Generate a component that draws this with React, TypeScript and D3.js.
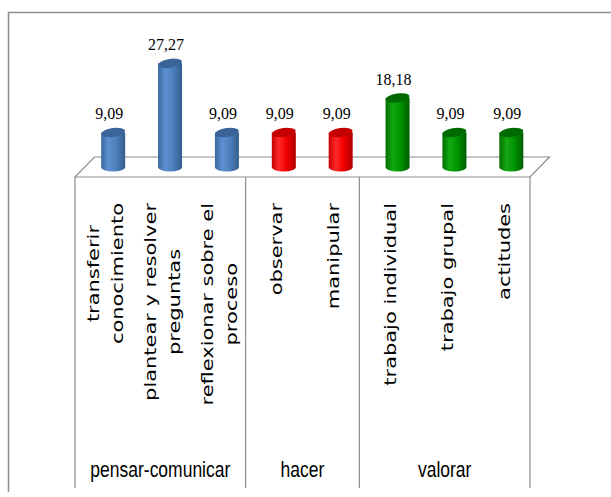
import React, { useLayoutEffect, useRef } from "react";
import * as d3 from "d3";

// Chart data
const categories = [
  "transferir conocimiento",
  "plantear y resolver preguntas",
  "reflexionar sobre el proceso",
  "observar",
  "manipular",
  "trabajo individual",
  "trabajo grupal",
  "actitudes",
];
const categoryLines = [
  ["transferir", "conocimiento"],
  ["plantear y resolver", "preguntas"],
  ["reflexionar sobre el", "proceso"],
  ["observar"],
  ["manipular"],
  ["trabajo individual"],
  ["trabajo grupal"],
  ["actitudes"],
];
const values = [9.09, 27.27, 9.09, 9.09, 9.09, 18.18, 9.09, 9.09];
const groupNames = ["pensar-comunicar", "hacer", "valorar"];
const groupSizes = [3, 2, 3];

// Per-group cylinder shading
const palettes = [
  { id: "gBlue", stops: ["#3a679c", "#5d91d2", "#4f81bd", "#345d8f"], top: "#3b6598" },
  { id: "gRed", stops: ["#c80000", "#ff2a2a", "#f20000", "#b00000"], top: "#c40000" },
  { id: "gGreen", stops: ["#006e00", "#14a814", "#009600", "#005e00"], top: "#006a00" },
];

const W = 611;
const H = 497;
const plotLeft = 75;
const plotRight = 530;
const floorFront = 177;
const depthX = 19.5;
const depthY = 20;
const tableBottom = 488;
const labelTop = 203;
const stretch = 1.31;
const lineGap = 24;
const gray = "#8d8d8d";

const fmt = (v: number) => d3.format(".2f")(v).replace(".", ",");

export default function App() {
  const labelsRef = useRef<SVGGElement>(null);

  const x = d3.scaleBand<string>().domain(categories).range([plotLeft, plotRight]);
  const bw = x.bandwidth();
  const base = floorFront - depthY / 2;
  const y = d3.scaleLinear().domain([0, 30]).range([base, base - 114]);

  const groupIndex: number[] = [];
  groupSizes.forEach((n, g) => {
    for (let i = 0; i < n; i++) groupIndex.push(g);
  });
  const bounds = [0, ...d3.cumsum(groupSizes)].map((c) => plotLeft + c * bw);

  const rx = 12;
  const ry = 4.5;

  useLayoutEffect(() => {
    if (!labelsRef.current) return;
    d3.select(labelsRef.current)
      .selectAll<SVGGElement, unknown>("g.cat")
      .each(function () {
        const texts = d3.select(this).selectAll<SVGTextElement, unknown>("text");
        const lens = texts.nodes().map((n) => n.getComputedTextLength());
        const maxLen = d3.max(lens) || 0;
        const yc = labelTop + (maxLen * stretch) / 2;
        texts.attr("transform", function () {
          const bx = +(this.getAttribute("data-x") || 0);
          return `translate(${bx},${yc}) scale(1,${stretch}) rotate(-90)`;
        });
      });
  }, []);

  return (
    <svg
      width={W}
      height={H}
      style={{ position: "absolute", left: 0, top: 0, background: "#fff" }}
    >
      <defs>
        {palettes.map((p) => (
          <linearGradient key={p.id} id={p.id} x1="0" x2="1" y1="0" y2="0">
            <stop offset="0" stopColor={p.stops[0]} />
            <stop offset="0.3" stopColor={p.stops[1]} />
            <stop offset="0.6" stopColor={p.stops[2]} />
            <stop offset="1" stopColor={p.stops[3]} />
          </linearGradient>
        ))}
      </defs>

      {/* frame */}
      <path d={`M8.5,492 V12.5 H${W}`} fill="none" stroke={gray} strokeWidth={1.5} />

      {/* floor */}
      <path
        d={`M${plotLeft},${floorFront} L${plotRight},${floorFront} L${plotRight + depthX},${floorFront - depthY} L${plotLeft + depthX},${floorFront - depthY} Z`}
        fill="#fff"
        stroke={gray}
        strokeWidth={1.2}
      />

      {/* category table lines */}
      {bounds.map((bx, i) => (
        <line
          key={i}
          x1={bx}
          x2={bx}
          y1={floorFront}
          y2={tableBottom}
          stroke={gray}
          strokeWidth={1.2}
        />
      ))}

      {/* cylinders */}
      {categories.map((c, i) => {
        const cx = (x(c) as number) + bw / 2 + depthX / 2;
        const yt = y(values[i]);
        const p = palettes[groupIndex[i]];
        return (
          <g key={c}>
            <path
              d={`M${cx - rx},${yt} L${cx - rx},${base} A${rx},${ry} 0 0 0 ${cx + rx},${base} L${cx + rx},${yt} Z`}
              fill={`url(#${p.id})`}
            />
            <ellipse
              cx={cx}
              cy={yt}
              rx={rx}
              ry={ry}
              fill={p.top}
              transform={`rotate(-8,${cx},${yt})`}
            />
            <text
              transform={`translate(${cx - 4},${yt - 13}) scale(1,1.11)`}
              textAnchor="middle"
              fontFamily="'Liberation Serif', serif"
              fontSize={16}
              fill="#000"
            >
              {fmt(values[i])}
            </text>
          </g>
        );
      })}

      {/* rotated category labels */}
      <g ref={labelsRef}>
        {categories.map((c, i) => {
          const lines = categoryLines[i];
          const center = (x(c) as number) + bw / 2;
          return (
            <g className="cat" key={c}>
              {lines.map((t, j) => {
                const bx = center + 8 + (j - (lines.length - 1) / 2) * lineGap;
                return (
                  <text
                    key={j}
                    data-x={bx}
                    transform={`translate(${bx},${labelTop + 60}) scale(1,${stretch}) rotate(-90)`}
                    textAnchor="middle"
                    fontFamily="'DejaVu Sans', sans-serif"
                    fontSize={16}
                    fill="#000"
                  >
                    {t}
                  </text>
                );
              })}
            </g>
          );
        })}
      </g>

      {/* group labels */}
      {groupNames.map((g, i) => (
        <text
          key={g}
          transform={`translate(${(bounds[i] + bounds[i + 1]) / 2},477) scale(1,1.25)`}
          textAnchor="middle"
          fontFamily="'Liberation Sans', sans-serif"
          fontSize={17.5}
          fill="#000"
        >
          {g}
        </text>
      ))}
    </svg>
  );
}
